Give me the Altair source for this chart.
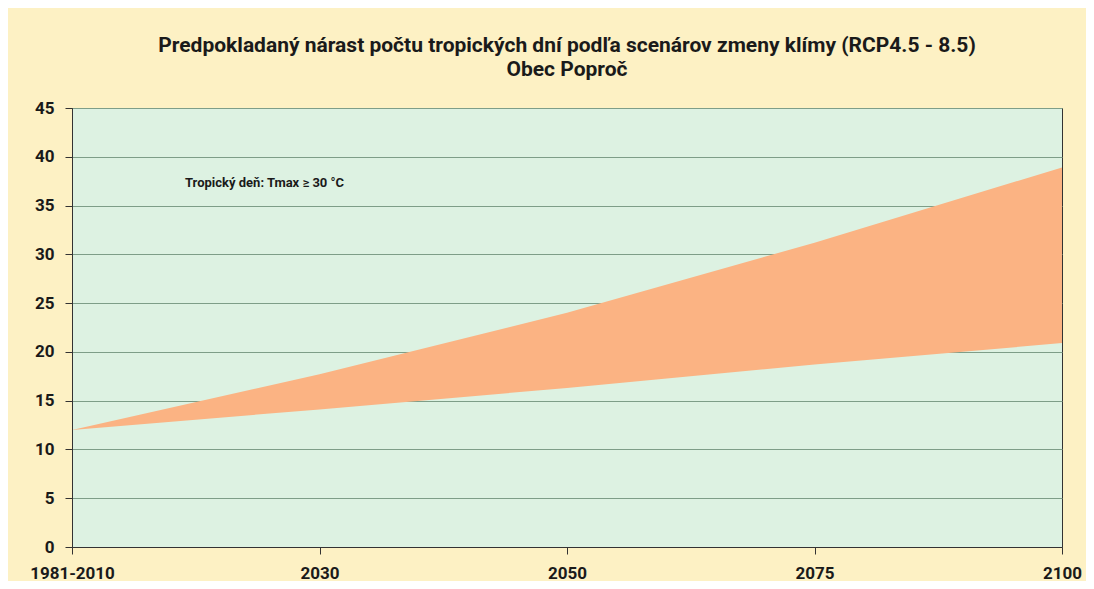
import altair as alt
import pandas as pd

periods = ["1981-2010", "2030", "2050", "2075", "2100"]
low_rcp45 = [12.0, 14.1, 16.3, 18.7, 20.9]
high_rcp85 = [12.0, 17.7, 24.0, 31.2, 38.9]
y_ticks = [0, 5, 10, 15, 20, 25, 30, 35, 40, 45]
title_lines = [
    "Predpokladaný nárast počtu tropických dní podľa scenárov zmeny klímy (RCP4.5 - 8.5)",
    "Obec Poproč",
]
note_text = "Tropický deň: Tmax ≥ 30 °C"
note_level = [37.3]

df = pd.DataFrame({"obdobie": periods, "low": low_rcp45, "high": high_rcp85})
note_df = pd.DataFrame({"t": [note_text], "v": note_level})

FONT = "Roboto, Lato, sans-serif"

x_enc = alt.X(
    "obdobie:N",
    sort=periods,
    scale=alt.Scale(type="point", padding=0),
    axis=alt.Axis(
        title=None,
        labelAngle=0,
        labelFont=FONT,
        labelFontSize=17,
        labelFontWeight="bold",
        labelColor="#1a1a1a",
        labelPadding=11,
        tickSize=7,
        tickColor="#333333",
        domainColor="#333333",
        grid=False,
    ),
)

y_scale = alt.Scale(domain=[0, 45], nice=False)

area = (
    alt.Chart(df)
    .mark_area(color="#FBB383", opacity=1, interpolate="linear")
    .encode(
        x=x_enc,
        y=alt.Y(
            "low:Q",
            scale=y_scale,
            axis=alt.Axis(
                title=None,
                values=y_ticks,
                labelFont=FONT,
                labelFontSize=17,
                labelFontWeight="bold",
                labelColor="#1a1a1a",
                labelPadding=11,
                tickSize=7,
                tickColor="#333333",
                domainColor="#333333",
                grid=True,
                gridColor="#7E9E88",
                gridWidth=1,
            ),
        ),
        y2="high:Q",
    )
)

note = (
    alt.Chart(note_df)
    .mark_text(
        align="left",
        baseline="middle",
        font=FONT,
        fontSize=13,
        fontWeight="bold",
        color="#1a1a1a",
    )
    .encode(x=alt.value(113), y=alt.Y("v:Q", scale=y_scale), text="t:N")
)

chart = (
    alt.layer(area, note)
    .properties(
        width=990,
        height=439,
        padding={"left": 64, "top": 100, "right": 24, "bottom": 34},
        autosize=alt.AutoSizeParams(type="none"),
        title=alt.TitleParams(
            text=title_lines,
            font=FONT,
            fontSize=21,
            fontWeight="bold",
            color="#1a1a1a",
            anchor="middle",
            lineHeight=24,
            offset=19,
        ),
    )
    .configure(background="#FDF1C4")
    .configure_view(fill="#DDF2E2", stroke="#333333", strokeWidth=1)
)

chart.save("out.html", embed_options={"renderer": "svg", "actions": False})
